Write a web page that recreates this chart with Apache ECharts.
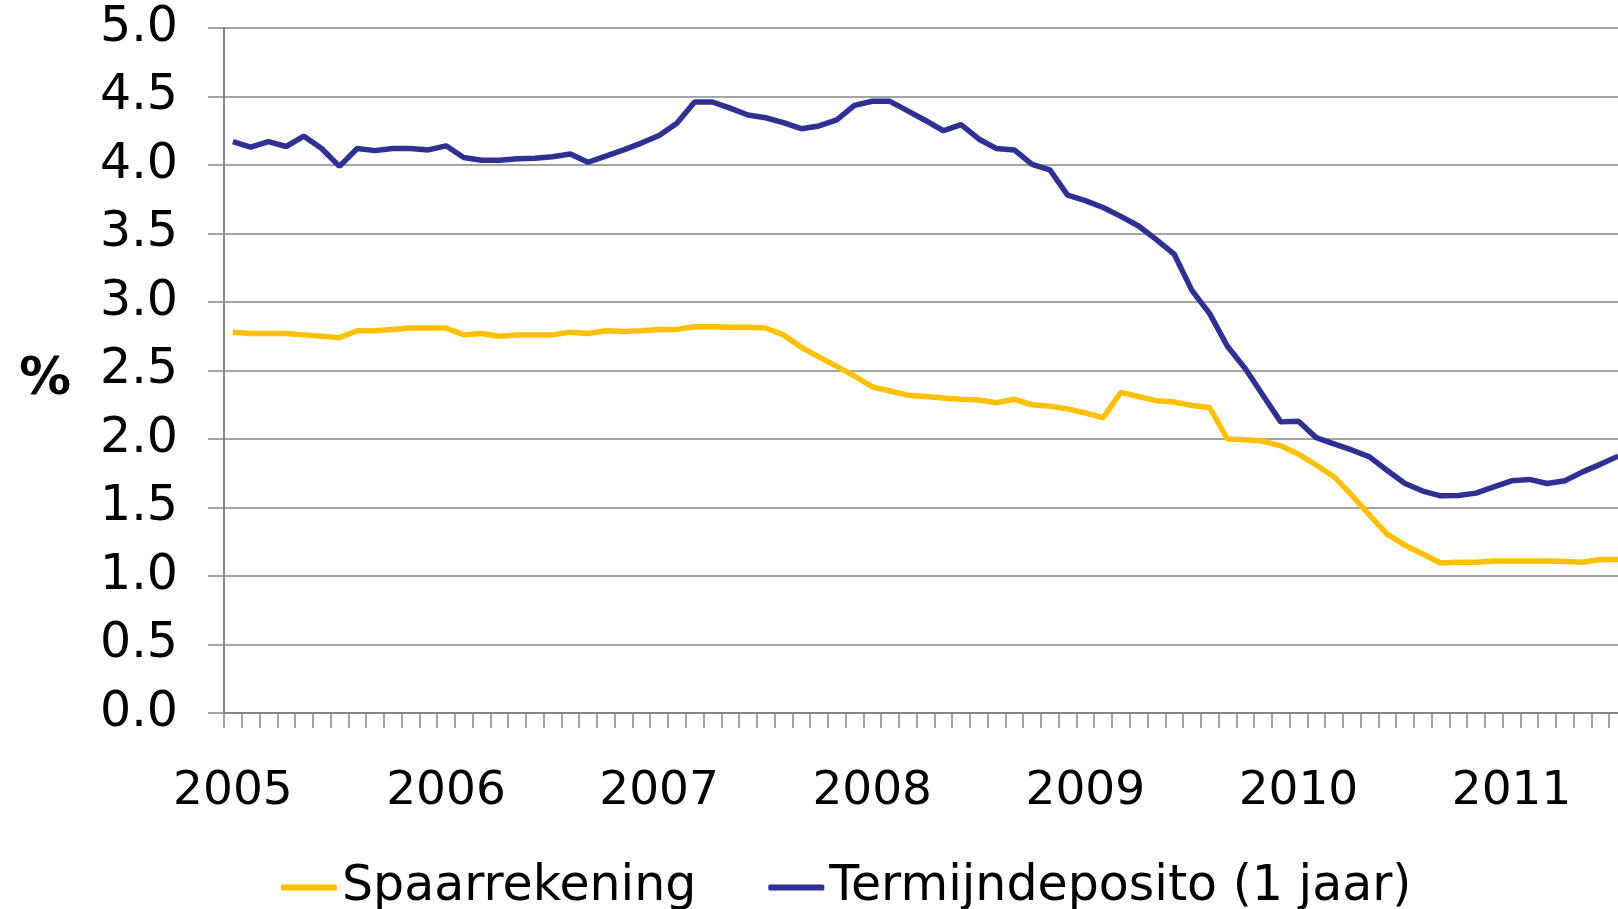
<!DOCTYPE html>
<html>
<head>
<meta charset="utf-8">
<title>Spaarrekening en termijndeposito</title>
<script src="https://cdn.jsdelivr.net/npm/echarts@6/dist/echarts.min.js"></script>
<style>
    html, body { margin: 0; padding: 0; overflow: hidden; background: #fff; }
    /* the plot runs a little past the right edge of the window, like the cropped original */
    #chart { width: 1640px; height: 909px; }
</style>
</head>
<body>
<div id="chart"></div>
<script>
    // months jan 2005 .. jul 2011
    const months = []
    for (let y = 2005; y <= 2011; y++) {
        for (let m = 1; m <= 12; m++) {
            if (y === 2011 && m > 7) break
            months.push(y + '-' + (m < 10 ? '0' + m : m))
        }
    }

    // Spaarrekening (%)
    const spaarrekening = [
        2.78, 2.77, 2.77, 2.77, 2.76, 2.75, 2.74, 2.79, 2.79, 2.80, 2.81, 2.81,
        2.81, 2.76, 2.77, 2.75, 2.76, 2.76, 2.76, 2.78, 2.77, 2.79, 2.785, 2.79,
        2.80, 2.80, 2.82, 2.82, 2.815, 2.815, 2.81, 2.76, 2.67, 2.60, 2.53, 2.46,
        2.38, 2.35, 2.32, 2.31, 2.30, 2.29, 2.285, 2.265, 2.29, 2.25, 2.24, 2.22,
        2.19, 2.155, 2.34, 2.31, 2.28, 2.27, 2.245, 2.23, 2.00, 1.995, 1.985, 1.95,
        1.89, 1.81, 1.725, 1.59, 1.445, 1.305, 1.225, 1.16, 1.095, 1.10, 1.10, 1.11,
        1.11, 1.11, 1.11, 1.105, 1.10, 1.12, 1.12
    ]

    // Termijndeposito, 1 jaar (%)
    const termijndeposito = [
        4.17, 4.13, 4.17, 4.135, 4.21, 4.12, 3.99, 4.12, 4.105, 4.12, 4.12, 4.11,
        4.14, 4.055, 4.035, 4.035, 4.045, 4.05, 4.06, 4.08, 4.02, 4.065, 4.11, 4.16,
        4.215, 4.305, 4.46, 4.46, 4.415, 4.365, 4.345, 4.31, 4.265, 4.285, 4.33, 4.435,
        4.465, 4.465, 4.395, 4.325, 4.25, 4.295, 4.19, 4.12, 4.11, 4.005, 3.965, 3.78,
        3.74, 3.69, 3.625, 3.555, 3.455, 3.35, 3.085, 2.915, 2.677, 2.515, 2.32, 2.125,
        2.13, 2.01, 1.965, 1.92, 1.87, 1.77, 1.675, 1.62, 1.585, 1.587, 1.605, 1.65,
        1.695, 1.705, 1.675, 1.695, 1.76, 1.815, 1.875
    ]

    const FONT = 'DejaVu Sans'
    const GRID_COLOR = '#868686'

    const chart = echarts.init(document.getElementById('chart'))
    chart.setOption({
        animation: false,
        textStyle: {fontFamily: FONT},
        grid: {left: 224, top: 28, right: 13, bottom: 196},
        // y-axis title "%" sits a bit below the middle of the axis
        graphic: [{
            type: 'text',
            x: 45,
            y: 380,
            style: {
                text: '%',
                font: 'bold 52px "DejaVu Sans"',
                fill: '#000',
                align: 'center',
                verticalAlign: 'middle'
            }
        }],
        legend: {
            left: 281,
            top: 863,
            padding: 0,
            itemWidth: 56,
            itemHeight: 6,
            itemGap: 72,
            icon: 'roundRect',
            textStyle: {fontFamily: FONT, fontSize: 49, color: '#000'},
            data: ['Spaarrekening', 'Termijndeposito (1 jaar)']
        },
        xAxis: {
            type: 'category',
            boundaryGap: true,
            data: months,
            axisLine: {lineStyle: {color: GRID_COLOR, width: 2}},
            axisTick: {show: true, interval: 0, length: 15, lineStyle: {color: GRID_COLOR, width: 1.5}},
            axisLabel: {
                interval: 11,
                margin: 55,
                fontFamily: FONT,
                fontSize: 47,
                color: '#000',
                formatter: v => v.slice(0, 4)
            },
            splitLine: {show: false}
        },
        yAxis: {
            type: 'value',
            min: 0,
            max: 5,
            interval: 0.5,
            axisLine: {show: true, lineStyle: {color: GRID_COLOR, width: 2}},
            axisTick: {show: true, length: 16, lineStyle: {color: GRID_COLOR, width: 1.5}},
            axisLabel: {
                margin: 46,
                fontFamily: FONT,
                fontSize: 49,
                color: '#000',
                formatter: v => v.toFixed(1)
            },
            splitLine: {lineStyle: {color: GRID_COLOR, width: 1.5}}
        },
        series: [
            {
                name: 'Spaarrekening',
                type: 'line',
                data: spaarrekening,
                symbol: 'none',
                color: '#FFC000',
                lineStyle: {width: 5.5, color: '#FFC000'}
            },
            {
                name: 'Termijndeposito (1 jaar)',
                type: 'line',
                data: termijndeposito,
                symbol: 'none',
                color: '#2E3192',
                lineStyle: {width: 5.5, color: '#2E3192'}
            }
        ]
    })
</script>
</body>
</html>
